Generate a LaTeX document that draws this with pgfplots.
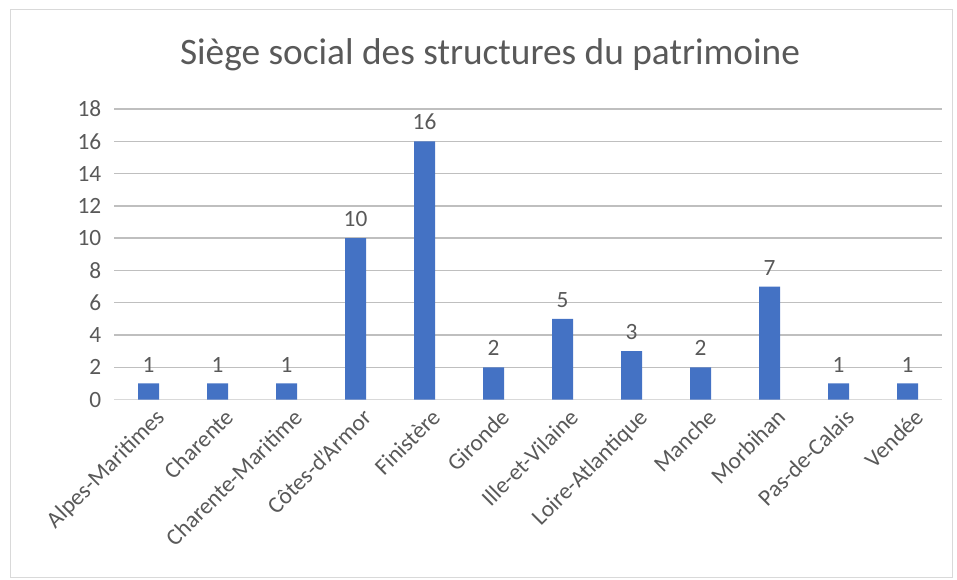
\documentclass[border=0pt]{standalone}
\usepackage{pgfplots}
\pgfplotsset{compat=1.18}
\usepackage{fontspec}
\setmainfont{Carlito}
\definecolor{barblue}{HTML}{4472C4}
\definecolor{txt}{HTML}{595959}
\definecolor{grid}{HTML}{D9D9D9}
\begin{document}
\begin{tikzpicture}
\useasboundingbox (0,0) rectangle (717.75pt,434.25pt);
\draw[grid, line width=0.75pt] (7.5pt,1.5pt) rectangle (714pt,426.75pt);
\node[txt, font=\fontsize{28}{33}\selectfont] at (367.5pt,393pt) {Siège social des structures du patrimoine};
\begin{axis}[
  at={(85.5pt,134.6pt)}, anchor=south west,
  scale only axis, width=621pt, height=217.9pt,
  ybar, bar width=15.75pt,
  xmin=-0.5, xmax=11.5, ymin=0, ymax=18,
  ytick={0,2,...,18},
  xtick={0,...,11},
  xticklabels={Alpes-Maritimes,Charente,Charente-Maritime,Côtes-d'Armor,Finistère,Gironde,Ille-et-Vilaine,Loire-Atlantique,Manche,Morbihan,Pas-de-Calais,Vendée},
  x tick label style={rotate=45, anchor=north east, inner sep=1pt, xshift=0pt, yshift=-6pt},
  ticklabel style={font=\fontsize{17.5}{20}\selectfont, text=txt},
  /pgf/number format/assume math mode=true,
  y tick label style={xshift=-6pt},
  axis y line*=left, axis x line*=bottom,
  y axis line style={draw=none},
  x axis line style={grid, line width=1pt},
  major tick length=0pt,
  xmajorgrids=false, ymajorgrids=true, grid style={grid, line width=1pt},
  xtick style={draw=none}, ytick style={draw=none},
  nodes near coords,
  nodes near coords style={font=\fontsize{17.5}{20}\selectfont, text=txt, yshift=5pt},
]
\addplot[fill=barblue, draw=none] coordinates {(0,1) (1,1) (2,1) (3,10) (4,16) (5,2) (6,5) (7,3) (8,2) (9,7) (10,1) (11,1)};
\end{axis}
\end{tikzpicture}
\end{document}
